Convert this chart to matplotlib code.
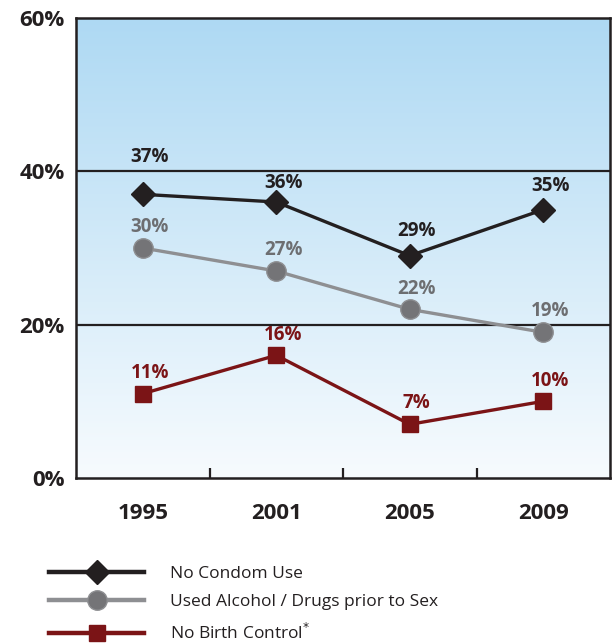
#!/usr/bin/env python3

# Risk behaviours among sexually active students, 1995-2009.

import numpy as np
import matplotlib.pyplot as plt
from matplotlib.colors import LinearSegmentedColormap

YEARS = ["1995", "2001", "2005", "2009"]
NO_CONDOM = [37, 36, 29, 35]
ALCOHOL_DRUGS = [30, 27, 22, 19]
NO_BIRTH_CONTROL = [11, 16, 7, 10]

Y_TICKS = [0, 20, 40, 60]

DARK = "#231f20"
GRAY_LINE = "#8e8f92"
GRAY_MARK = "#747477"
GRAY_TEXT = "#6d6e71"
RED = "#7b1416"

plt.rcParams["font.family"] = ["Open Sans", "DejaVu Sans"]

fig = plt.figure(figsize=(6.12, 6.44), dpi=100)
ax = fig.add_axes([76 / 612, 1 - 478 / 644, 534 / 612, 460 / 644])

x = np.arange(len(YEARS))

# Blue-to-white gradient behind the plot
grad = LinearSegmentedColormap.from_list("sky", ["#f7fbfe", "#aed9f3"])
ax.imshow(np.linspace(0, 1, 256).reshape(-1, 1), cmap=grad, origin="lower",
          extent=[-0.5, 3.5, 0, 60], aspect="auto", zorder=0)

for y in [20, 40]:
    ax.axhline(y, color=DARK, lw=1.6, zorder=1)

ax.plot(x, NO_CONDOM, color=DARK, lw=2.4, marker="D", ms=12,
        mfc=DARK, mec=DARK, zorder=3, label="No Condom Use")
ax.plot(x, ALCOHOL_DRUGS, color=GRAY_LINE, lw=2.4, marker="o", ms=14,
        mfc=GRAY_MARK, mec=GRAY_LINE, mew=1, zorder=3,
        label="Used Alcohol / Drugs prior to Sex")
ax.plot(x, NO_BIRTH_CONTROL, color=RED, lw=2.4, marker="s", ms=12,
        mfc=RED, mec=RED, zorder=3, label="No Birth Control$^{*}$")

# Value labels above each point
label_kw = dict(textcoords="offset points", ha="center", va="center",
                fontsize=13.5, fontweight="bold", zorder=4)
condom_dy = [27, 14, 18, 17]
for i, v in enumerate(NO_CONDOM):
    ax.annotate(f"{v}%", (x[i], v), xytext=(5, condom_dy[i]), color=DARK, **label_kw)
for i, v in enumerate(ALCOHOL_DRUGS):
    ax.annotate(f"{v}%", (x[i], v), xytext=(5, 15), color=GRAY_TEXT, **label_kw)
for i, v in enumerate(NO_BIRTH_CONTROL):
    ax.annotate(f"{v}%", (x[i], v), xytext=(5, 15), color=RED, **label_kw)

ax.set_xlim(-0.5, 3.5)
ax.set_ylim(0, 60)
ax.set_xticks(x)
ax.set_xticklabels(YEARS, fontsize=16, fontweight="bold", color=DARK)
ax.set_xticks(x[:-1] + 0.5, minor=True)
ax.set_yticks(Y_TICKS)
ax.set_yticklabels([f"{t}%" for t in Y_TICKS], fontsize=16,
                   fontweight="bold", color=DARK)
ax.tick_params(axis="x", which="major", length=0, pad=18)
ax.tick_params(axis="x", which="minor", direction="in", length=7,
               width=1.6, color=DARK)
ax.tick_params(axis="y", length=0, pad=8)

for s in ax.spines.values():
    s.set_color(DARK)
    s.set_linewidth(1.8)
    s.set_zorder(5)

handles, labels = ax.get_legend_handles_labels()
leg = fig.legend(handles, labels, loc="upper left",
                 bbox_to_anchor=(42 / 612, 1 - 559 / 644),
                 frameon=False, fontsize=12.5, handlelength=5.5,
                 handletextpad=1.5, labelspacing=0.7, borderaxespad=0)
for line in leg.get_lines():
    line.set_linewidth(3.2)
for t in leg.get_texts():
    t.set_color(DARK)

fig.savefig("out.png", dpi=100)
plt.close()
